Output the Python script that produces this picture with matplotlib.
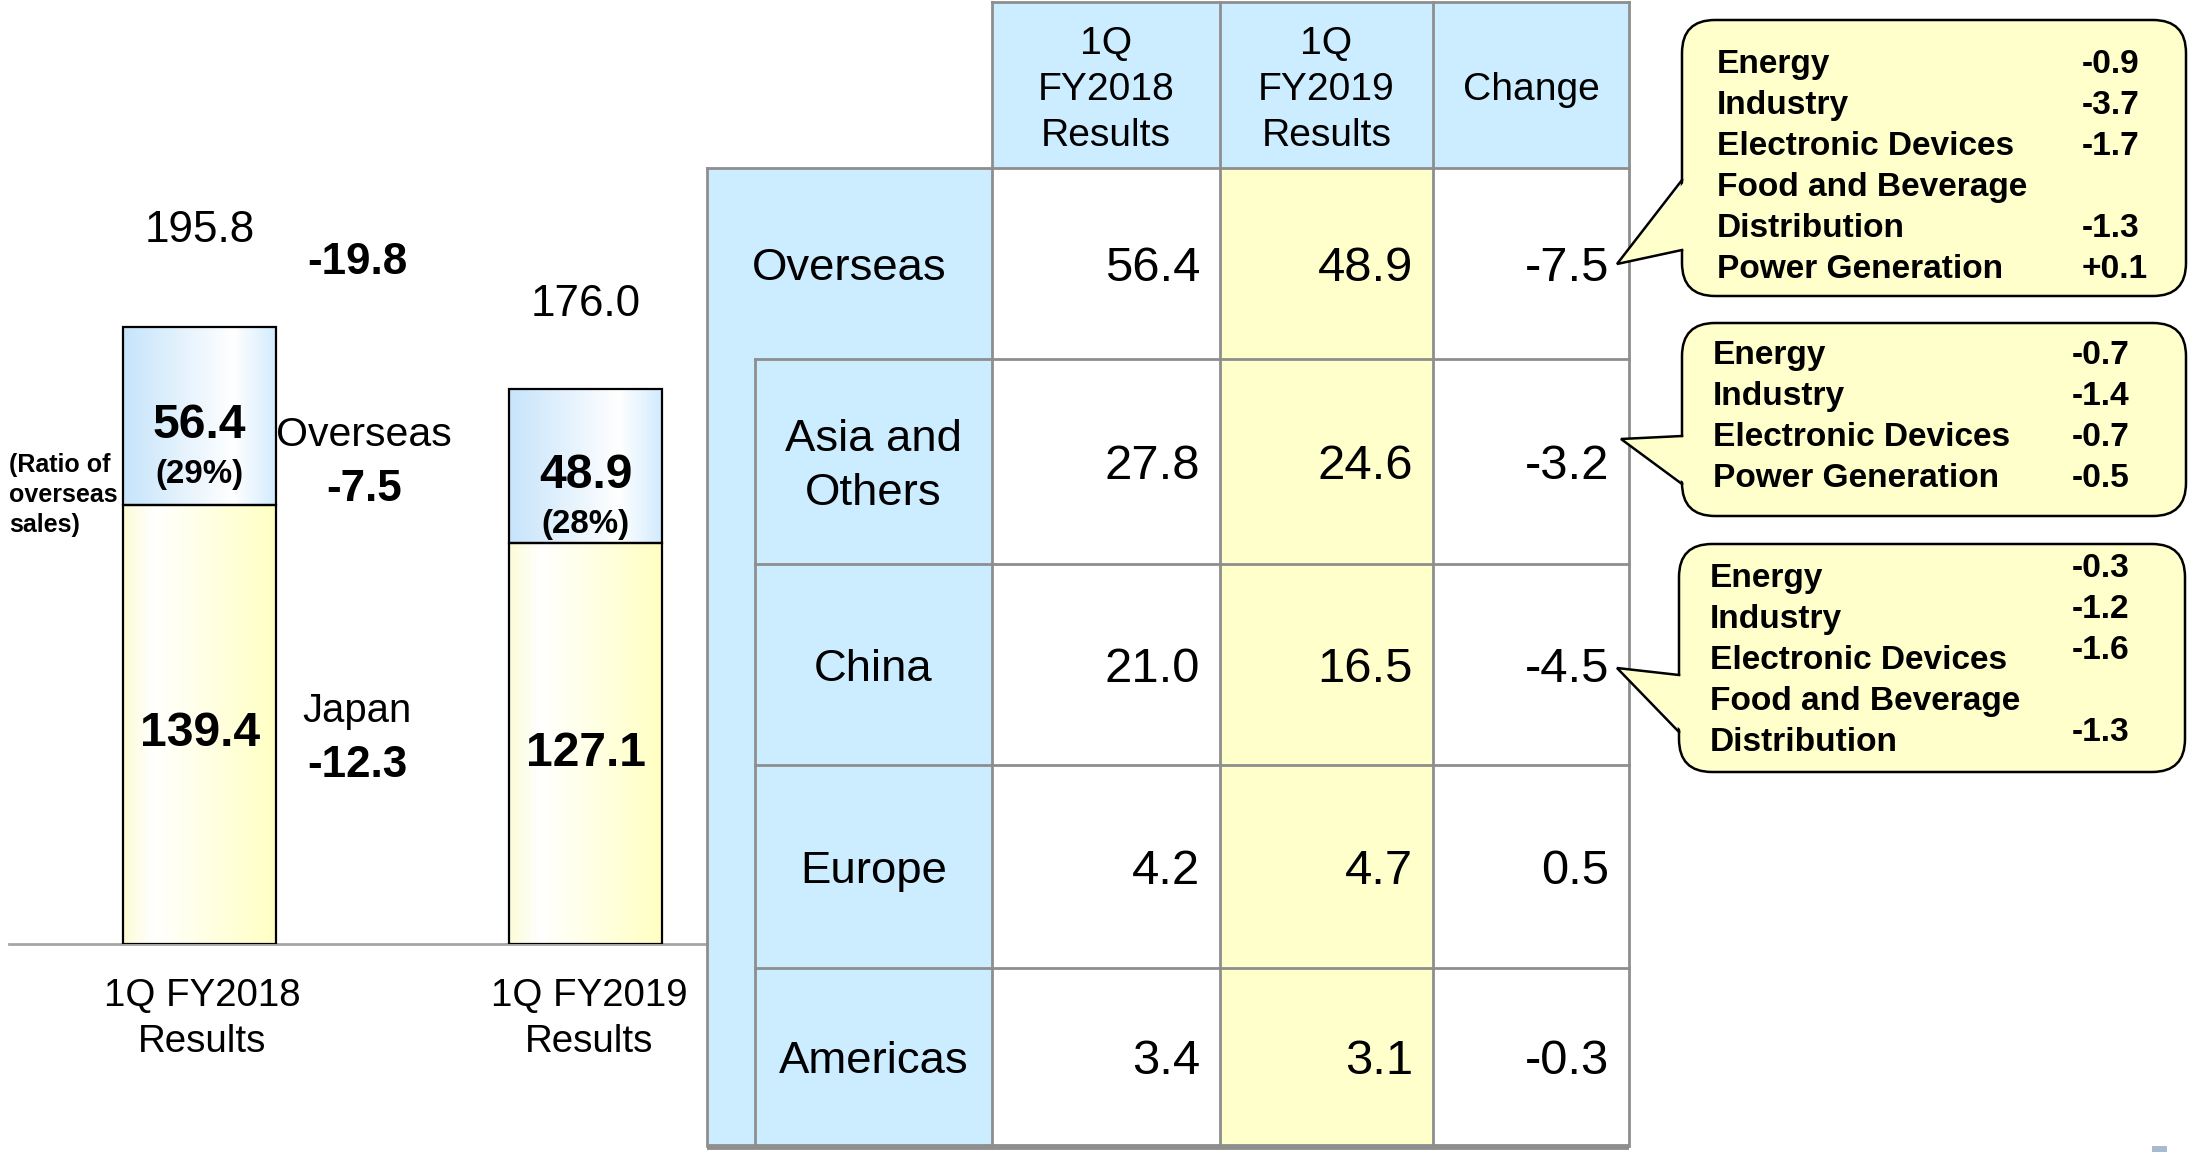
import numpy as np
import matplotlib
matplotlib.use("Agg")
import matplotlib.pyplot as plt
from matplotlib.colors import LinearSegmentedColormap
from matplotlib.patches import Rectangle, FancyBboxPatch, Polygon

plt.rcParams['font.family'] = ['Liberation Sans', 'DejaVu Sans']

# ---- data ----
periods = ["1Q FY2018\nResults", "1Q FY2019\nResults"]
japan = [139.4, 127.1]
overseas = [56.4, 48.9]

regions = ["Overseas", "Asia and\nOthers", "China", "Europe", "Americas"]
fy2018 = [56.4, 27.8, 21.0, 4.2, 3.4]
fy2019 = [48.9, 24.6, 16.5, 4.7, 3.1]
change = [-7.5, -3.2, -4.5, 0.5, -0.3]
table_headers = ["1Q\nFY2018\nResults", "1Q\nFY2019\nResults", "Change"]

callout_labels = [
    ["Energy", "Industry", "Electronic Devices", "Food and Beverage", "Distribution", "Power Generation"],
    ["Energy", "Industry", "Electronic Devices", "Power Generation"],
    ["Energy", "Industry", "Electronic Devices", "Food and Beverage", "Distribution"],
]
callout_values = [
    ["-0.9", "-3.7", "-1.7", "", "-1.3", "+0.1"],
    ["-0.7", "-1.4", "-0.7", "-0.5"],
    ["-0.3", "-1.2", "-1.6", "", "-1.3"],
]

BLUE = '#CCECFF'
YELLOW = '#FFFFCC'
GRID = '#8E8E8E'
W, H = 2201, 1152

fig = plt.figure(figsize=(W / 100, H / 100), dpi=100)

# overlay axes in pixel coordinates (y down)
ax = fig.add_axes([0, 0, 1, 1])
ax.set_xlim(0, W)
ax.set_ylim(H, 0)
ax.axis('off')


def put(x, y, s, px, bold=False, ha='center', color='black'):
    # y is the centre of capital letters, in pixels from the top
    ax.text(x, y + 0.358 * px, s, fontsize=px * 0.72, ha=ha, va='baseline',
            fontweight='bold' if bold else 'normal', color=color)


def put_lines(x, y0, s, px, step, bold=False, ha='center'):
    for i, line in enumerate(s.split('\n')):
        put(x, y0 + i * step, line, px, bold, ha)


# ---- stacked bars ----
base_y = 944
px_per_unit = 3.152
bar_ax = fig.add_axes([0, (H - base_y) / H, 720 / W, base_y / H])
bar_ax.patch.set_alpha(0)
bar_ax.axis('off')
pos = np.arange(len(periods))
bar_w = 153 / 386
blue_cmap = LinearSegmentedColormap.from_list('bl', [(0, '#C6E4FB'), (0.72, '#FFFFFF'), (1, '#D2EBFE')])
yel_cmap = LinearSegmentedColormap.from_list('ye', [(0, '#FCFCD6'), (0.2, '#FFFFFF'), (1, '#FFFFC2')])
grad = np.linspace(0, 1, 256).reshape(1, -1)

bars_j = bar_ax.bar(pos, japan, bar_w, facecolor='none', edgecolor='black', linewidth=1.6, zorder=3)
bars_o = bar_ax.bar(pos, overseas, bar_w, bottom=japan, facecolor='none', edgecolor='black',
                    linewidth=1.6, zorder=3)
for bars, cmap in [(bars_j, yel_cmap), (bars_o, blue_cmap)]:
    for p in bars:
        x0, y0 = p.get_x(), p.get_y()
        im = bar_ax.imshow(grad, cmap=cmap, aspect='auto', zorder=1,
                           extent=(x0, x0 + p.get_width(), y0, y0 + p.get_height()))
        im.set_clip_path(p)
bar_ax.set_xlim(-199.75 / 386, (720 - 199.75) / 386)
bar_ax.set_ylim(0, base_y / px_per_unit)


def bar_label(i, v, s, px, dy, bold):
    bar_ax.annotate(s, (i, v), xytext=(0, -(dy + 0.358 * px)), textcoords='offset pixels',
                    ha='center', va='baseline', fontsize=px * 0.72,
                    fontweight='bold' if bold else 'normal')


total_gap = [101, 89]
for i in pos:
    tot = japan[i] + overseas[i]
    bar_label(i, tot, f"{tot:.1f}", 44, -total_gap[i], False)
    bar_label(i, japan[i] + overseas[i] / 2, f"{overseas[i]:.1f}", 48, 5, True)
    bar_label(i, japan[i] + overseas[i] / 2, f"({overseas[i] / tot * 100:.0f}%)", 33, 55, True)
    bar_label(i, japan[i] / 2, f"{japan[i]:.1f}", 48, 5, True)

# baseline
ax.plot([9, 707], [base_y, base_y], color='#A6A6A6', lw=2.0)

# period labels
put_lines(202, 992, periods[0], 38.5, 46)
put_lines(589, 992, periods[1], 38.5, 46)

# change annotations between bars
tot0 = japan[0] + overseas[0]
tot1 = japan[1] + overseas[1]
put(357, 258, f"{tot1 - tot0:.1f}", 44, bold=True)
put(364, 431, "Overseas", 41)
put(364, 485, f"{overseas[1] - overseas[0]:.1f}", 44, bold=True)
put(357, 708, "Japan", 40)
put(357, 761, f"{japan[1] - japan[0]:.1f}", 44, bold=True)
put_lines(9, 463, "(Ratio of\noverseas\nsales)", 25, 30, bold=True, ha='left')

# ---- table ----
col_x = [992, 1220, 1433, 1629]
row_y = [167.6, 359, 563.7, 765, 967.7, 1146]
head_top = 2
left_x, inner_x = 707, 755

for j in range(3):
    ax.add_patch(Rectangle((col_x[j], head_top), col_x[j + 1] - col_x[j], row_y[0] - head_top,
                           facecolor=BLUE, edgecolor='none'))
    put_lines((col_x[j] + col_x[j + 1]) / 2,
              86 - 23 * (table_headers[j].count('\n')), table_headers[j], 39, 46)
ax.add_patch(Rectangle((left_x, row_y[0]), col_x[0] - left_x, row_y[-1] - row_y[0],
                       facecolor=BLUE, edgecolor='none'))
ax.add_patch(Rectangle((col_x[1], row_y[0]), col_x[2] - col_x[1], row_y[-1] - row_y[0],
                       facecolor=YELLOW, edgecolor='none'))

for i, name in enumerate(regions):
    yc = (row_y[i] + row_y[i + 1]) / 2
    lx = (left_x + col_x[0]) / 2 if i == 0 else (inner_x + col_x[0]) / 2
    n = name.count('\n')
    put_lines(lx, yc - 27 * n, name, 45.5, 54)
    for j, v in enumerate([fy2018[i], fy2019[i], change[i]]):
        put(col_x[j + 1] - 20, yc, f"{v:.1f}", 49, ha='right')

lw = 2.0
for x in col_x:
    ax.plot([x, x], [head_top, row_y[-1]], color=GRID, lw=lw)
ax.plot([left_x, left_x], [row_y[0], row_y[-1]], color=GRID, lw=lw)
ax.plot([inner_x, inner_x], [row_y[1], row_y[-1]], color=GRID, lw=lw)
ax.plot([col_x[0], col_x[-1]], [head_top, head_top], color=GRID, lw=lw)
ax.plot([left_x, col_x[-1]], [row_y[0], row_y[0]], color=GRID, lw=lw)
for y in row_y[1:-1]:
    ax.plot([inner_x, col_x[-1]], [y, y], color=GRID, lw=lw)
ax.plot([left_x, col_x[-1]], [row_y[-1] + 1, row_y[-1] + 1], color=GRID, lw=4.2,
        solid_capstyle='butt')

# ---- callouts ----
boxes = [(1682, 20, 2186, 296), (1682, 323, 2186, 516), (1679, 544, 2185, 772)]
wedges = [((180, 250), (1617, 264)), ((436, 484), (1621, 439)), ((675, 732), (1617, 668))]
text_pos = [(1717, 2082, 61, 0), (1713, 2072, 352, 0), (1710, 2072, 575, -10)]

for k in range(3):
    x0, y0, x1, y1 = boxes[k]
    ax.add_patch(FancyBboxPatch((x0, y0), x1 - x0, y1 - y0,
                                boxstyle='round,pad=0,rounding_size=33',
                                facecolor=YELLOW, edgecolor='black', lw=1.8, zorder=5))
    (wa, wb), tip = wedges[k]
    ax.add_patch(Polygon([(x0 + 3, wa + 1), tip, (x0 + 3, wb - 1)], closed=True,
                         facecolor=YELLOW, edgecolor='none', zorder=6))
    ax.plot([x0, tip[0], x0], [wa, tip[1], wb], color='black', lw=1.8, zorder=7,
            solid_joinstyle='miter')
    tx, vx, ty, voff = text_pos[k]
    for i, (lab, val) in enumerate(zip(callout_labels[k], callout_values[k])):
        y = ty + 41 * i
        ax.text(tx, y + 0.358 * 33.5, lab, fontsize=33.5 * 0.72, fontweight='bold',
                ha='left', va='baseline', zorder=8)
        if val:
            ax.text(vx, y + voff + 0.358 * 33.5, val, fontsize=33.5 * 0.72, fontweight='bold',
                    ha='left', va='baseline', zorder=8)

# small page marker at the bottom right
ax.add_patch(Rectangle((2152, 1146), 15, 6, facecolor='#A9B9CF', edgecolor='none'))

fig.savefig('out.png', dpi=100)
